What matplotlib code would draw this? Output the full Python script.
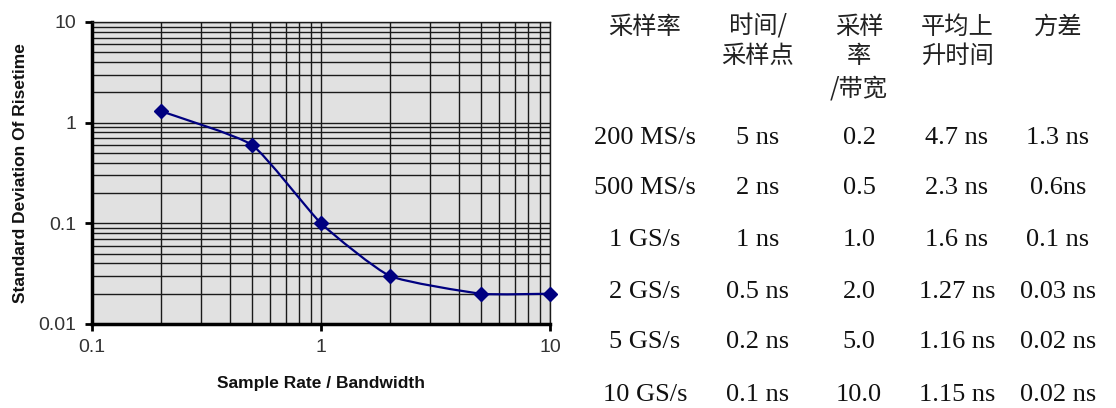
import numpy as np
import matplotlib
matplotlib.use('Agg')
import matplotlib.pyplot as plt
from matplotlib.path import Path
from matplotlib.patches import PathPatch
from matplotlib.ticker import LogLocator, NullFormatter, FixedLocator, FixedFormatter

plt.rcParams['font.family'] = 'Liberation Sans'

# sample rate / bandwidth vs. std deviation of risetime
ratio = [0.2, 0.5, 1.0, 2.0, 5.0, 10.0]
std_dev = [1.3, 0.6, 0.1, 0.03, 0.02, 0.02]

# table columns
headers = [['采样率'], ['时间/', '采样点'], ['采样', '率', '/带宽'], ['平均上', '升时间'], ['方差']]
col_rate = ['200 MS/s', '500 MS/s', '1 GS/s', '2 GS/s', '5 GS/s', '10 GS/s']
col_period = ['5 ns', '2 ns', '1 ns', '0.5 ns', '0.2 ns', '0.1 ns']
col_ratio = ['0.2', '0.5', '1.0', '2.0', '5.0', '10.0']
col_rise = ['4.7 ns', '2.3 ns', '1.6 ns', '1.27 ns', '1.16 ns', '1.15 ns']
col_var = ['1.3 ns', '0.6ns', '0.1 ns', '0.03 ns', '0.02 ns', '0.02 ns']

fig = plt.figure(figsize=(11.16, 4.08), dpi=100)
ax = fig.add_axes([92/1116, 1-324/408, 458/1116, 302/408])
ax.set_xscale('log')
ax.set_yscale('log')
ax.set_xlim(0.1, 10)
ax.set_ylim(0.01, 10)
ax.set_facecolor('#e1e1e1')

# grid on every decade subdivision
ax.xaxis.set_minor_locator(LogLocator(base=10, subs=np.arange(2, 10)))
ax.yaxis.set_minor_locator(LogLocator(base=10, subs=np.arange(2, 10)))
ax.xaxis.set_minor_formatter(NullFormatter())
ax.yaxis.set_minor_formatter(NullFormatter())
ax.xaxis.set_major_locator(FixedLocator([0.1, 1, 10]))
ax.xaxis.set_major_formatter(FixedFormatter(['0.1', '1', '10']))
ax.yaxis.set_major_locator(FixedLocator([0.01, 0.1, 1, 10]))
ax.yaxis.set_major_formatter(FixedFormatter(['0.01', '0.1', '1', '10']))
ax.grid(True, which='both', color='#1a1a1a', linewidth=1.0)
ax.set_axisbelow(True)
ax.tick_params(which='minor', length=0)
ax.tick_params(which='major', length=5, width=2, color='black', direction='out',
               labelsize=14, labelcolor='#333333')
ax.tick_params(axis='x', pad=6)
ax.tick_params(axis='y', pad=6)

for s in ['top', 'right']:
    ax.spines[s].set_linewidth(1.0)
    ax.spines[s].set_color('#1a1a1a')
for s in ['left', 'bottom']:
    ax.spines[s].set_linewidth(2.5)
    ax.spines[s].set_color('black')

# gently smoothed line (bezier through the points, built in log space)
pts = np.column_stack([np.log10(ratio), np.log10(std_dev)])
padded = np.vstack([pts[0], pts, pts[-1]])
verts = [pts[0]]
codes = [Path.MOVETO]
k = 1 / 12
for i in range(len(pts) - 1):
    p0, p1, p2, p3 = padded[i], padded[i+1], padded[i+2], padded[i+3]
    verts += [p1 + (p2 - p0) * k, p2 - (p3 - p1) * k, p2]
    codes += [Path.CURVE4] * 3
verts = 10 ** np.array(verts)
ax.add_patch(PathPatch(Path(verts, codes), fill=False, edgecolor='#000080',
                       linewidth=1.6, transform=ax.transData, zorder=3))
ax.plot(ratio, std_dev, linestyle='none', marker='D', markersize=7.5,
        color='#000080', zorder=4, clip_on=False)

ax.set_xlabel('Sample Rate / Bandwidth', fontsize=12.5, fontweight='bold',
              labelpad=14, color='#111111')
ax.set_ylabel('Standard Deviation Of Risetime', fontsize=12.5, fontweight='bold',
              labelpad=8, color='#111111')

# table on the right
col_x = [645, 758, 859, 957, 1058]
head_y = [27, 56, 88]
row_y = [138, 188, 240, 292, 342, 395]
cjk = ['Noto Sans CJK SC', 'DejaVu Sans']

for cx, lines in zip(col_x, headers):
    for j, txt in enumerate(lines):
        fig.text(cx / 1116, 1 - head_y[j] / 408, txt, ha='center', va='center',
                 fontsize=17.5, family=cjk, fontweight='light', color='#222222')

for cx, col in zip(col_x, [col_rate, col_period, col_ratio, col_rise, col_var]):
    for ry, txt in zip(row_y, col):
        fig.text(cx / 1116, 1 - ry / 408, txt, ha='center', va='center',
                 fontsize=19, family='Liberation Serif', color='#111111')

fig.savefig('out.png', dpi=100)
